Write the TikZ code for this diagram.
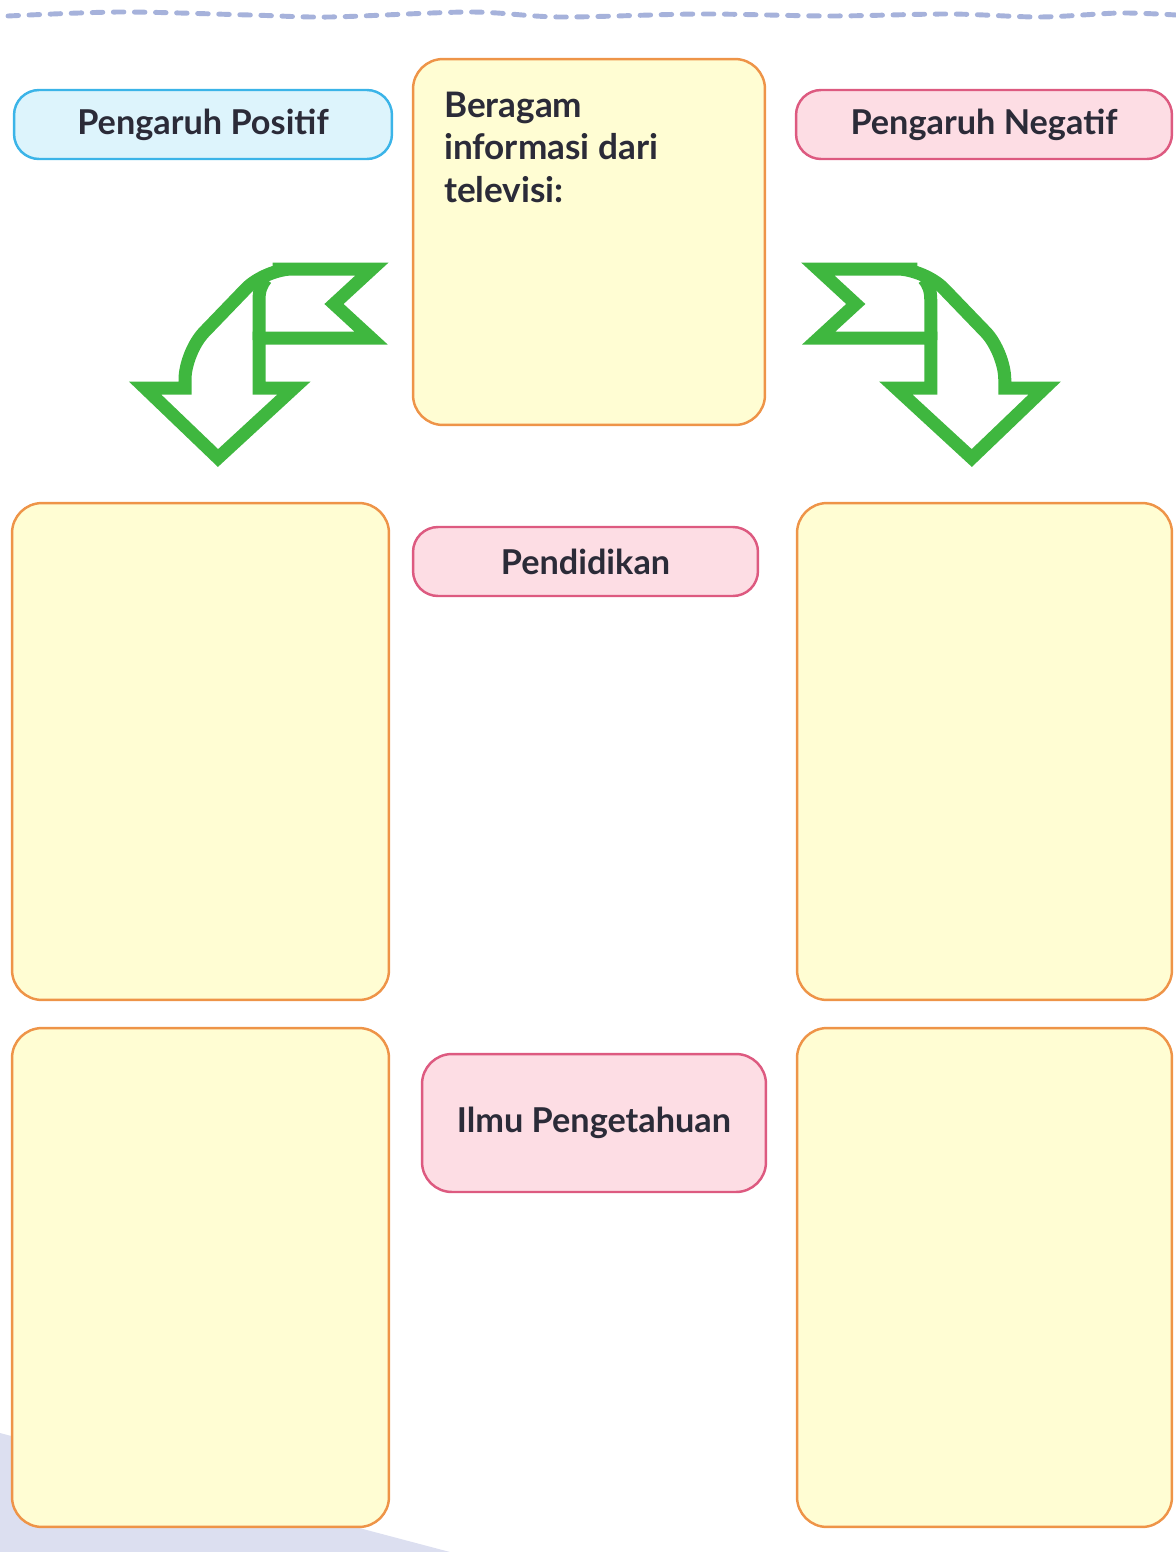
\documentclass[tikz,border=0pt]{standalone}
\usepackage{fontspec}
\setmainfont{Lato}
\usetikzlibrary{positioning}

\definecolor{boxyellow}{HTML}{FFFDD3}
\definecolor{boxorange}{HTML}{EE9448}
\definecolor{tagblue}{HTML}{DDF4FC}
\definecolor{tagblueline}{HTML}{3BB4E8}
\definecolor{tagpink}{HTML}{FDDDE4}
\definecolor{tagpinkline}{HTML}{DD5A80}
\definecolor{arrowgreen}{HTML}{3FB73F}
\definecolor{dashblue}{HTML}{A6B2DB}
\definecolor{shadelav}{HTML}{DCDFF0}
\definecolor{textdark}{HTML}{2B2B38}

\tikzset{
  answerbox/.style={draw=boxorange, fill=boxyellow, line width=1.4pt,
    rounded corners=0.6cm, minimum width=7.54cm},
  tag/.style={line width=1.4pt, rounded corners=0.5cm, text=textdark,
    font=\fontsize{19.5}{24}\selectfont\bfseries},
  arrowline/.style={draw=arrowgreen, line width=0.26cm, line join=miter},
  pics/bentarrow/.style={code={
    \draw[arrowline] (372,269) -- (334,304) -- (371,338) -- (259,338)
      -- (259,388) -- (294,388) -- (218,458) -- (145,388) -- (185,388)
      -- (185,378) [rounded corners=0.55cm] -- (185,352) -- (265,269)
      -- (300,269) [sharp corners] -- cycle;
    \draw[arrowline] (259,340) -- (259,300)
      .. controls (259,291) and (261,285) .. (266,279);
  }}
}

\begin{document}
\begin{tikzpicture}[x=0.02cm, y=-0.02cm]

  \useasboundingbox (0,0) rectangle (1176,1552);

  % background
  \fill[shadelav] (0,1433) -- (450,1552) -- (0,1552) -- cycle;
  \draw[dashblue, line width=2.8pt, line cap=round, dash pattern=on 6pt off 6pt]
    plot[smooth] coordinates {(8,16) (120,12) (250,15) (330,17) (470,12)
      (560,17) (700,14) (830,16) (950,14) (1040,17) (1120,13) (1176,15)};

  \begin{scope}[every node/.style={answerbox}]
    \node[minimum width=7.04cm, minimum height=7.32cm] (info) at (589,242) {};
    \node[minimum height=9.94cm] (pos1) at (200.5,751.5) {};
    \node[minimum width=7.5cm, minimum height=9.94cm] (neg1) at (984.5,751.5) {};
    \node[minimum height=9.98cm] (pos2) at (200.5,1277.5) {};
    \node[minimum width=7.5cm, minimum height=9.98cm] (neg2) at (984.5,1277.5) {};
  \end{scope}

  \node[text=textdark, font=\fontsize{20}{24.1}\selectfont\bfseries, align=left,
    inner sep=0pt, anchor=north west] (infotext)
    at ([shift={(32,34)}]info.north west) {Beragam\\informasi dari\\televisi:};

  \begin{scope}[every node/.style={tag}]
    \node[draw=tagblueline, fill=tagblue, minimum width=7.56cm, minimum height=1.38cm]
      (positif) at (203,124.5) {Pengaruh Positif};
    \node[draw=tagpinkline, fill=tagpink, minimum width=7.52cm, minimum height=1.38cm]
      (negatif) at (984,124.5) {Pengaruh Negatif};
    \node[draw=tagpinkline, fill=tagpink, minimum width=6.9cm, minimum height=1.38cm]
      (pendidikan) at (585.5,561.5) {Pendidikan};
    \node[draw=tagpinkline, fill=tagpink, minimum width=6.88cm, minimum height=2.76cm,
      rounded corners=0.6cm] (ilmu) at (594,1123) {Ilmu Pengetahuan};
  \end{scope}

  % green arrows
  \pic {bentarrow};
  \begin{scope}[xshift=23.8cm, xscale=-1]
    \pic[transform shape] {bentarrow};
  \end{scope}

\end{tikzpicture}
\end{document}
